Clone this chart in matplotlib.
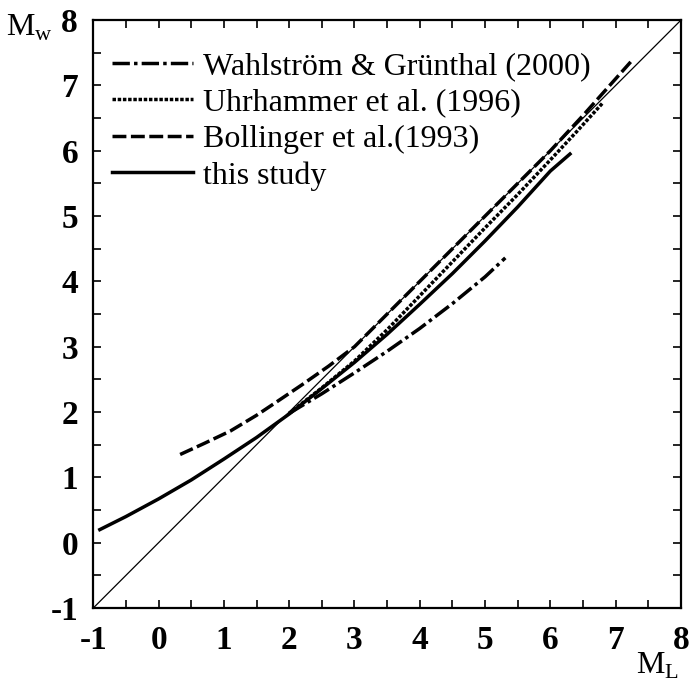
import numpy as np
import matplotlib
matplotlib.use('Agg')
from matplotlib import pyplot as plt
from matplotlib.ticker import MultipleLocator

plt.rcParams['font.family'] = ['Liberation Serif', 'DejaVu Serif']
plt.rcParams['mathtext.fontset'] = 'custom'
plt.rcParams['mathtext.rm'] = 'Liberation Serif'

# values (ML, Mw)
ml_wg = [2.0, 2.5, 3.0, 3.5, 4.0, 4.5, 5.0, 5.31]
mw_wg = [1.98, 2.28, 2.60, 2.93, 3.28, 3.66, 4.07, 4.36]

ml_uhr = [2.0, 2.5, 3.0, 3.5, 4.0, 4.5, 5.0, 5.5, 6.0, 6.4, 6.8]
mw_uhr = [1.98, 2.37, 2.78, 3.26, 3.78, 4.30, 4.82, 5.33, 5.86, 6.29, 6.73]

ml_boll = [0.33, 0.7, 1.1, 1.5, 1.8, 2.2, 2.6, 3.0, 3.5, 4.0, 4.8, 5.5, 6.0, 6.5, 6.9, 7.23]
mw_boll = [1.35, 1.52, 1.71, 1.95, 2.15, 2.42, 2.70, 3.00, 3.50, 4.00, 4.80, 5.50, 6.00, 6.54, 6.99, 7.36]

ml_this = [-0.9, -0.5, 0, 0.5, 1, 1.5, 2, 2.5, 3, 3.5, 4, 4.5, 5, 5.5, 6, 6.3]
mw_this = [0.20, 0.40, 0.67, 0.96, 1.28, 1.61, 1.97, 2.36, 2.76, 3.19, 3.65, 4.12, 4.62, 5.14, 5.69, 5.95]

labels = ['Wahlström & Grünthal (2000)', 'Uhrhammer et al. (1996)',
          'Bollinger et al.(1993)', 'this study']
ticks = [-1, 0, 1, 2, 3, 4, 5, 6, 7, 8]

fig = plt.figure(figsize=(6.91, 6.86), dpi=100)
ax = fig.add_axes([0.135, 0.1137, 0.8505, 0.857])

lw = 2.5
ax.plot([-1, 8], [-1, 8], color='black', lw=0.9)
ax.plot(ml_wg, mw_wg, color='black', lw=lw, ls=(0, (5, 1.2, 1, 1.2)), label=labels[0])
ax.plot(ml_uhr, mw_uhr, color='black', lw=lw, ls=(0, (1, 0.5)), label=labels[1])
ax.plot(ml_boll, mw_boll, color='black', lw=lw, ls=(0, (4, 1.3)), label=labels[2])
ax.plot(ml_this, mw_this, color='black', lw=lw, ls='-', label=labels[3])

ax.set_xlim(-1, 8)
ax.set_ylim(-1, 8)
ax.xaxis.set_minor_locator(MultipleLocator(0.5))
ax.yaxis.set_minor_locator(MultipleLocator(0.5))
ax.set_xticks(ticks)
ax.set_yticks(ticks)
ax.set_xticklabels([str(t) for t in ticks])
ax.set_yticklabels([str(t) for t in ticks])
ax.tick_params(which='both', direction='in', top=True, right=True, length=6, width=1.2)
ax.tick_params(axis='x', pad=12, labelsize=24)
ax.tick_params(axis='y', pad=11, labelsize=24)
for t in ax.get_xticklabels() + ax.get_yticklabels():
    t.set_fontweight('bold')
for s in ax.spines.values():
    s.set_linewidth(1.6)

leg = ax.legend(loc='upper left', bbox_to_anchor=(0.032, 0.946), frameon=False,
                fontsize=23, handlelength=2.54, handletextpad=0.31,
                labelspacing=0.22, borderpad=0, borderaxespad=0)

fig.text(0.043, 0.96, r'M$_\mathregular{w}$', fontsize=23, ha='center', va='center')
fig.text(0.952, 0.029, r'M$_\mathregular{L}$', fontsize=23, ha='center', va='center')

fig.savefig('out.png', dpi=100)
